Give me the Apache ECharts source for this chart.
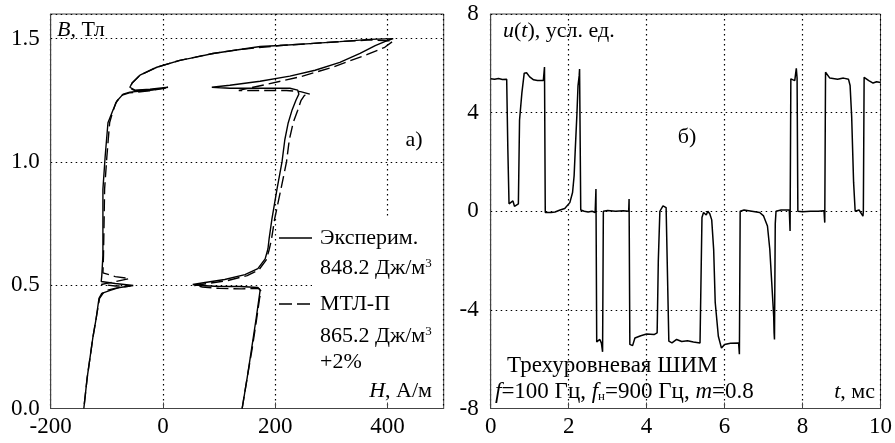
<!DOCTYPE html>
<html>
<head>
<meta charset="utf-8">
<script src="https://cdn.jsdelivr.net/npm/echarts@6/dist/echarts.min.js"></script>
<style>html,body{margin:0;padding:0;background:#fff}#main{width:895px;height:443px}</style>
</head>
<body>
<div id="main"></div>
<script>
// а) петля B(H): эксперимент (сплошная) и модель МТЛ-П (штрих)
const expH = [141,150,158,166,171,173,169, 137,101,66,53, 75,110,146,169,182,187,189,
  194,203,212,217,223,230,237,242,240, 226,191,155,119,87, 119,173,226,271,315,351,378,395,410,
  369,315,262,208,173,137,89,57,30,-11,-41,-55,-59, -50,-23,9,
  -23,-59,-71,-82,-89,-98,-103,-107,-107,-107,-109,-110, -85,-53,-77,-94,-109,-114,
  -119,-125,-130,-135,-141];
const expB = [0,0.125,0.245,0.366,0.447,0.479,0.491, 0.495,0.495,0.499,0.503, 0.511,0.523,0.543,0.567,0.607,0.648,0.688,
  0.768,0.889,1.0,1.09,1.158,1.211,1.251,1.275,1.291, 1.299,1.299,1.299,1.299,1.303, 1.311,1.327,1.348,1.372,1.404,1.44,1.472,1.488,1.5,
  1.497,1.488,1.48,1.472,1.468,1.456,1.44,1.424,1.412,1.384,1.352,1.32,1.303, 1.291,1.295,1.303,
  1.291,1.283,1.275,1.247,1.211,1.159,1.022,0.889,0.756,0.62,0.539,0.515, 0.507,0.499,0.491,0.479,0.467,0.447,
  0.366,0.286,0.205,0.125,0];
const modH = [141,150,159,167,172,175,171, 140,100,70,56, 80,115,150,171,184,189,193,
  199,210,220,225,232,240,246,252,262, 245,220,180,135, 185,244,303,363,395,410,
  370,315,262,208,137,89,30,-11,-41,-55,-59, -50,-20,5,
  -25,-60,-74,-84,-90,-95,-100,-104,-105,-106,-107, -85,-60,-88,-110,-85,-58,-82,-104,-113,
  -119,-125,-130,-135,-141];
const modB = [0,0.125,0.245,0.366,0.447,0.475,0.487, 0.485,0.487,0.493,0.499, 0.507,0.519,0.539,0.563,0.603,0.643,0.683,
  0.77,0.889,1.0,1.09,1.16,1.21,1.25,1.27,1.275, 1.285,1.29,1.29,1.29, 1.315,1.345,1.385,1.435,1.465,1.49,
  1.495,1.488,1.48,1.472,1.456,1.44,1.412,1.384,1.352,1.32,1.30, 1.289,1.293,1.30,
  1.288,1.28,1.27,1.24,1.2,1.16,1.02,0.89,0.75,0.62,0.55, 0.535,0.527,0.513,0.503,0.497,0.497,0.489,0.477,0.447,
  0.366,0.286,0.205,0.125,0];

// б) напряжение u(t) при трехуровневой ШИМ
const tMs = [0,0.1,0.2,0.3,0.41,0.44,0.47,0.52,0.57,0.61,
  0.66,0.71,0.74,0.8,0.86,0.92,1.0,1.1,1.2,1.35,
  1.37,1.38,1.40,1.44,1.55,1.65,1.78,1.9,2.03,2.10,
  2.14,2.17,2.21,2.24,2.27,2.28,2.31,2.4,2.5,2.6,
  2.68,2.70,2.72,2.76,2.8,2.84,2.87,2.89,3.0,3.2,
  3.4,3.54,3.55,3.57,3.64,3.7,3.85,4.0,4.19,4.27,
  4.30,4.34,4.42,4.5,4.55,4.57,4.65,4.77,4.9,5.05,
  5.2,5.37,5.42,5.46,5.5,5.53,5.57,5.62,5.67,5.72,
  5.76,5.84,5.92,6.0,6.15,6.36,6.38,6.40,6.5,6.7,
  6.9,7.0,7.1,7.16,7.21,7.26,7.27,7.28,7.30,7.32,
  7.45,7.6,7.66,7.68,7.70,7.75,7.8,7.84,7.86,7.88,
  8.0,8.2,8.4,8.55,8.57,8.59,8.7,8.9,9.05,9.18,
  9.22,9.26,9.31,9.35,9.45,9.55,9.56,9.58,9.6,9.7,
  9.81,9.9,10];
const uVal = [5.37,5.35,5.38,5.34,5.35,2.5,0.3,0.25,0.42,0.2,
  0.15,0.3,3.7,4.8,5.6,5.62,5.45,5.33,5.3,5.3,
  5.35,5.85,-0.05,-0.12,-0.05,-0.03,0.05,0.11,0.35,0.76,
  1.44,2.52,3.87,5.09,5.5,5.77,0.05,0.0,-0.03,0.0,
  -0.05,0.9,-5.3,-5.25,-5.2,-5.35,-5.7,0.0,0.03,0.0,
  0.02,0.0,0.5,-5.4,-5.45,-5.14,-5.05,-4.98,-5.0,-4.93,
  -2.0,0.0,0.22,0.15,0.2,-5.27,-5.34,-5.2,-5.28,-5.25,
  -5.3,-5.34,-0.25,-0.05,0.0,-0.15,0.0,-0.1,-0.35,-1.55,
  -3.7,-5.07,-5.55,-5.4,-5.35,-5.34,-5.8,0.0,0.05,0.0,
  -0.05,-0.19,-0.6,-1.54,-2.9,-4.26,-4.93,-5.2,-0.5,0.0,
  0.05,0.05,0.05,-0.8,5.37,5.37,5.3,5.8,5.4,0.0,
  -0.02,0.0,0.0,0.02,-0.46,5.64,5.4,5.35,5.4,5.35,
  5.1,3.85,1.17,0.0,0.05,-0.2,0.0,5.43,5.43,5.3,
  5.2,5.25,5.22];

const FONT = '"Liberation Serif", "DejaVu Serif", serif';
const FS = 22;

const pairs = (xs, ys) => xs.map((x, i) => [x, ys[i]]);

const richFor = fs => ({
  i: { fontStyle: 'italic', fontSize: fs, fontFamily: FONT, fill: '#000' },
  sup: { fontSize: 13, fontFamily: FONT, fill: '#000', verticalAlign: 'top' },
  sub: { fontSize: 13, fontFamily: FONT, fill: '#000', verticalAlign: 'bottom' }
});

const label = (x, y, text, align, fs) => ({
  type: 'text', x: x, y: y, z: 10,
  style: {
    text: text, fontSize: fs || FS, fontFamily: FONT, fill: '#000',
    align: align || 'left', verticalAlign: 'middle',
    textAlign: align || 'left', textVerticalAlign: 'middle',
    rich: richFor(fs || FS)
  }
});

const dotted = { color: '#000', width: 1.2, type: [1.5, 3.5] };
const axisText = { color: '#000', fontSize: 23, fontFamily: FONT };
const frameLine = { show: true, onZero: false, lineStyle: { color: '#444' } };

const option = {
  animation: false,
  backgroundColor: '#fff',
  grid: [
    { left: 50.7, top: 14, width: 393, height: 394.5, show: true, borderColor: '#444', borderWidth: 1 },
    { left: 490.7, top: 14, width: 393, height: 394.5, show: true, borderColor: '#444', borderWidth: 1 }
  ],
  xAxis: [
    {
      gridIndex: 0, type: 'value', min: -200, max: 500, interval: 200,
      axisLine: frameLine,
      axisTick: { inside: true, length: 6, lineStyle: { color: '#444' } },
      axisLabel: Object.assign({ margin: 7, showMaxLabel: false }, axisText),
      splitLine: { show: true, lineStyle: dotted }
    },
    {
      gridIndex: 1, type: 'value', min: 0, max: 10, interval: 2,
      axisLine: frameLine,
      axisTick: { inside: true, length: 6, lineStyle: { color: '#444' } },
      axisLabel: Object.assign({ margin: 7 }, axisText),
      splitLine: { show: true, lineStyle: dotted }
    }
  ],
  yAxis: [
    {
      gridIndex: 0, type: 'value', min: 0, max: 1.6, interval: 0.5,
      axisLine: frameLine,
      axisTick: { show: false },
      axisLabel: Object.assign({ margin: 11, showMaxLabel: false, formatter: v => v.toFixed(1) }, axisText),
      splitLine: { show: true, lineStyle: dotted }
    },
    {
      gridIndex: 1, type: 'value', min: -8, max: 8, interval: 4,
      axisLine: frameLine,
      axisTick: { show: false },
      axisLabel: Object.assign({ margin: 12 }, axisText),
      splitLine: { show: true, lineStyle: dotted }
    }
  ],
  series: [
    {
      name: 'Эксперим.', type: 'line', xAxisIndex: 0, yAxisIndex: 0,
      data: pairs(expH, expB), showSymbol: false, symbol: 'none', z: 3,
      lineStyle: { color: '#000', width: 1.4 }
    },
    {
      name: 'МТЛ-П', type: 'line', xAxisIndex: 0, yAxisIndex: 0,
      data: pairs(modH, modB), showSymbol: false, symbol: 'none', z: 3,
      lineStyle: { color: '#000', width: 1.4, type: [12, 5] }
    },
    {
      name: 'u(t)', type: 'line', xAxisIndex: 1, yAxisIndex: 1,
      data: pairs(tMs, uVal), showSymbol: false, symbol: 'none', z: 3,
      lineStyle: { color: '#000', width: 1.5 }
    }
  ],
  graphic: [
    // белая подложка под легендой
    { type: 'rect', z: 1, shape: { x: 312, y: 218, width: 130, height: 184 }, style: { fill: '#fff' } },
    { type: 'line', z: 10, shape: { x1: 279, y1: 238, x2: 312, y2: 238 }, style: { stroke: '#000', lineWidth: 1.4 } },
    { type: 'line', z: 10, shape: { x1: 279, y1: 304, x2: 312, y2: 304 }, style: { stroke: '#000', lineWidth: 1.4, lineDash: [13, 5] } },
    label(320, 238, 'Эксперим.'),
    label(320, 268, '848.2 Дж/м{sup|3}'),
    label(320, 304, 'МТЛ-П'),
    label(320, 336, '865.2 Дж/м{sup|3}'),
    label(320, 362, '+2%'),
    label(432, 391, '{i|H}, А/м', 'right'),
    label(414, 140, 'а)', 'center'),
    label(57, 30, '{i|B}, Тл'),
    label(503, 31, '{i|u}({i|t}), усл. ед.'),
    label(687, 137, 'б)', 'center'),
    label(507, 366, 'Трехуровневая ШИМ', 'left', 23),
    label(495, 392, '{i|f}=100 Гц, {i|f}{sub|н}=900 Гц, {i|m}=0.8', 'left', 23),
    label(875, 392, '{i|t}, мс', 'right')
  ]
};

const myChart = echarts.init(document.getElementById('main'), null, { renderer: 'canvas' });
myChart.setOption(option);
</script>
</body>
</html>
